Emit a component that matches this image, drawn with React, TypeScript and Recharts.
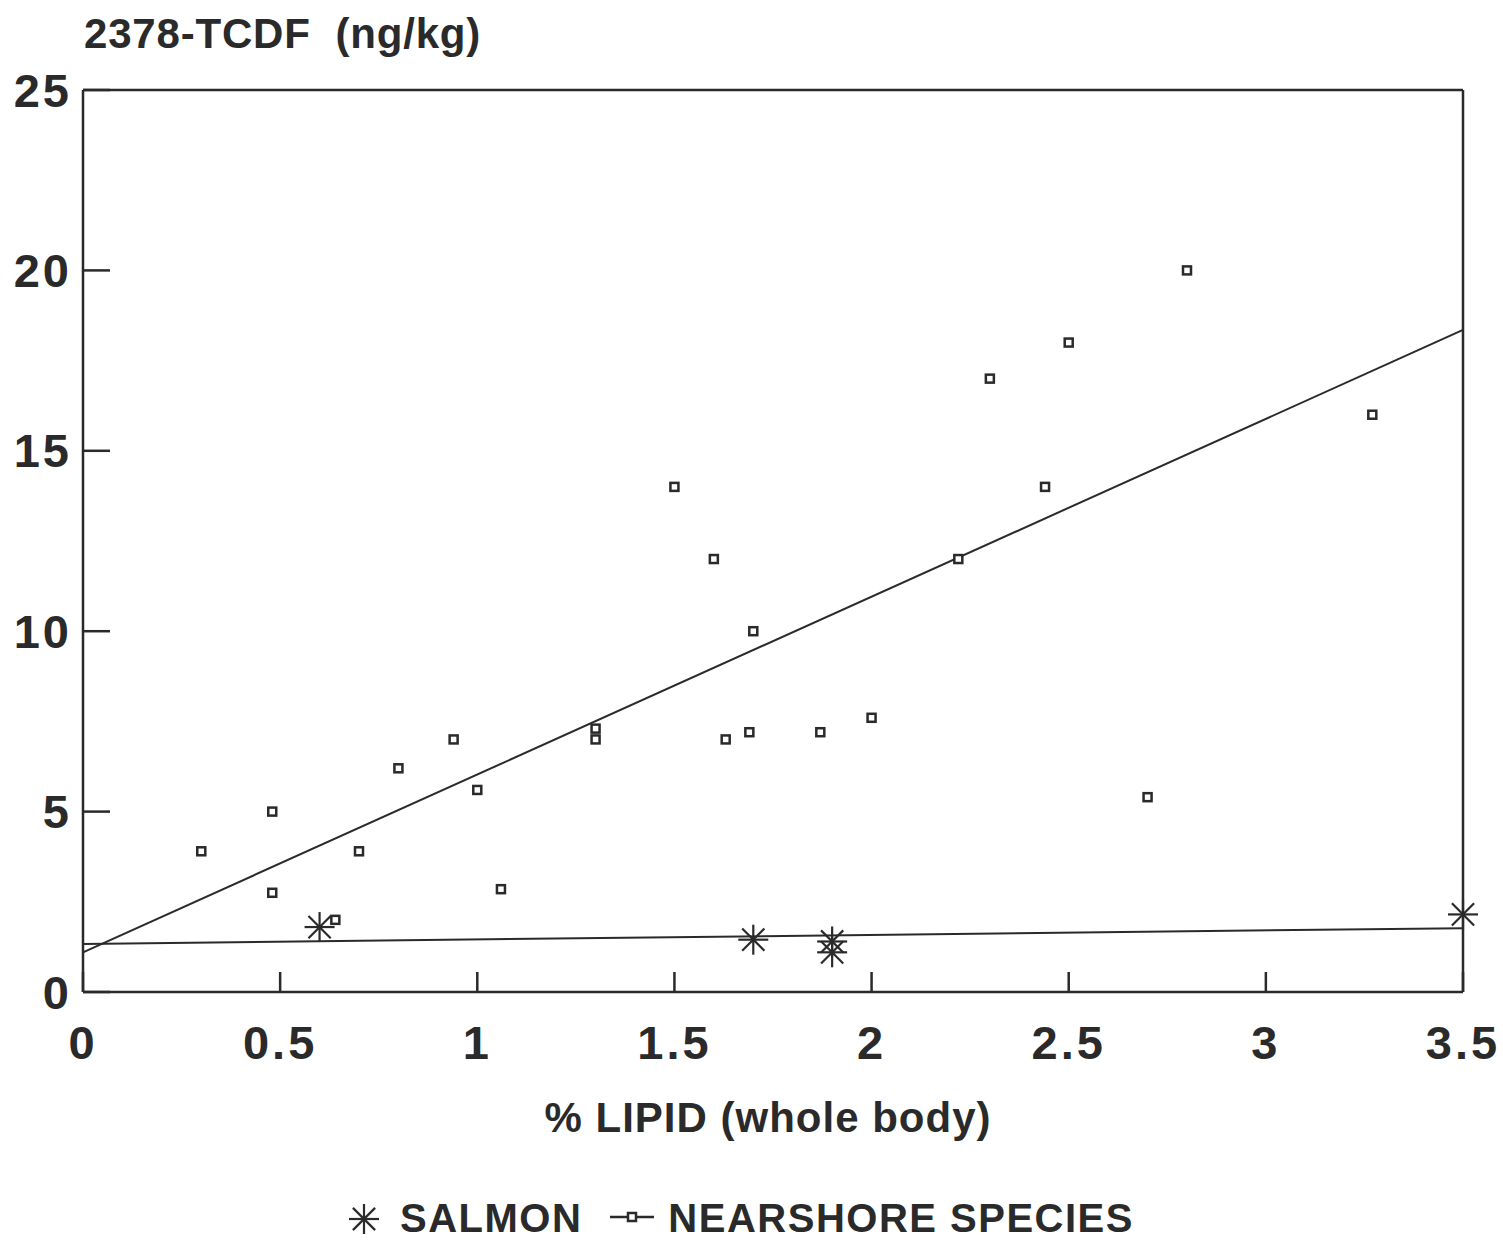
import { ScatterChart, Scatter, XAxis, YAxis, ReferenceLine } from 'recharts';

// % lipid (whole body) vs 2378-TCDF (ng/kg)
const nearshoreLipid = [0.3, 0.48, 0.48, 0.64, 0.7, 0.8, 0.94, 1.0, 1.06, 1.3, 1.3, 1.5, 1.6, 1.63, 1.69, 1.7, 1.87, 2.0, 2.22, 2.3, 2.44, 2.5, 2.7, 2.8, 3.27];
const nearshoreTcdf = [3.9, 5.0, 2.75, 2.0, 3.9, 6.2, 7.0, 5.6, 2.85, 7.3, 7.0, 14, 12, 7.0, 7.2, 10, 7.2, 7.6, 12, 17, 14, 18, 5.4, 20, 16];

const salmonLipid = [0.6, 1.7, 1.9, 1.9, 3.5];
const salmonTcdf = [1.8, 1.45, 1.4, 1.1, 2.15];

// fitted lines, end points
const fitLipid = [0, 3.5];
const nearshoreFit = [1.1, 18.35];
const salmonFit = [1.33, 1.77];

const xTicks = [0, 0.5, 1, 1.5, 2, 2.5, 3, 3.5];
const yTicks = [0, 5, 10, 15, 20, 25];

const nearshoreData = nearshoreLipid.map((x, i) => ({ x, y: nearshoreTcdf[i] }));
const salmonData = salmonLipid.map((x, i) => ({ x, y: salmonTcdf[i] }));

const INK = '#2a2a2a';
const FONT = '"Liberation Sans", Arial, Helvetica, sans-serif';

const SquareMark = (props: any) => {
  const { cx, cy } = props;
  return <rect x={cx - 4} y={cy - 4} width={8} height={8} fill="#fff" stroke={INK} strokeWidth={2.5} />;
};

const StarMark = (props: any) => {
  const { cx, cy } = props;
  const r = 15;
  const d = r * 0.74;
  return (
    <g stroke={INK} strokeWidth={2.2}>
      <line x1={cx - r} y1={cy} x2={cx + r} y2={cy} />
      <line x1={cx} y1={cy - r} x2={cx} y2={cy + r} />
      <line x1={cx - d} y1={cy - d} x2={cx + d} y2={cy + d} />
      <line x1={cx - d} y1={cy + d} x2={cx + d} y2={cy - d} />
    </g>
  );
};

const tickStyle = { fill: INK, fontSize: 47, fontWeight: 700, fontFamily: FONT, letterSpacing: 3 };
const textStyle = { fontFamily: FONT, fontWeight: 700, color: INK, position: 'absolute' as const, whiteSpace: 'nowrap' as const };

export default function App() {
  return (
    <div style={{ position: 'absolute', left: 0, top: 0, width: 1503, height: 1246, background: '#fff' }}>
      <ScatterChart width={1503} height={1246} margin={{ top: 90, right: 40, left: 23, bottom: 194 }}>
        <XAxis
          type="number"
          dataKey="x"
          domain={[0, 3.5]}
          ticks={xTicks}
          height={60}
          tickSize={-20}
          tickMargin={54}
          stroke={INK}
          strokeWidth={2.5}
          tick={tickStyle}
          tickFormatter={(v: number) => String(v)}
        />
        <YAxis
          type="number"
          dataKey="y"
          domain={[0, 25]}
          ticks={yTicks}
          width={60}
          tickSize={-27}
          tickMargin={38}
          stroke={INK}
          strokeWidth={2.5}
          tick={tickStyle}
        />
        <ReferenceLine y={25} stroke={INK} strokeWidth={2.5} />
        <ReferenceLine x={3.5} stroke={INK} strokeWidth={2.5} />
        <ReferenceLine
          segment={[{ x: fitLipid[0], y: nearshoreFit[0] }, { x: fitLipid[1], y: nearshoreFit[1] }]}
          stroke={INK}
          strokeWidth={2}
        />
        <ReferenceLine
          segment={[{ x: fitLipid[0], y: salmonFit[0] }, { x: fitLipid[1], y: salmonFit[1] }]}
          stroke={INK}
          strokeWidth={2}
        />
        <Scatter name="NEARSHORE SPECIES" data={nearshoreData} shape={<SquareMark />} isAnimationActive={false} />
        <Scatter name="SALMON" data={salmonData} shape={<StarMark />} isAnimationActive={false} />
      </ScatterChart>

      <div style={{ ...textStyle, left: 84, top: 10, fontSize: 42, letterSpacing: 0.8 }}>2378-TCDF&nbsp;&nbsp;(ng/kg)</div>
      <div style={{ ...textStyle, left: 0, width: 1536, top: 1094, fontSize: 42, textAlign: 'center', letterSpacing: 1 }}>
        % LIPID (whole body)
      </div>

      {/* legend */}
      <div style={{ ...textStyle, left: 0, top: 1196, width: 1480, display: 'flex', justifyContent: 'center', alignItems: 'center', fontSize: 40, letterSpacing: 1.5 }}>
        <svg width={36} height={36} style={{ marginRight: 18 }}>
          <StarMark cx={18} cy={18} />
        </svg>
        <span>SALMON</span>
        <svg width={48} height={36} style={{ marginLeft: 26, marginRight: 12 }}>
          <line x1={2} y1={16} x2={46} y2={16} stroke={INK} strokeWidth={2.5} />
          <SquareMark cx={24} cy={16} />
        </svg>
        <span>NEARSHORE SPECIES</span>
      </div>
    </div>
  );
}
